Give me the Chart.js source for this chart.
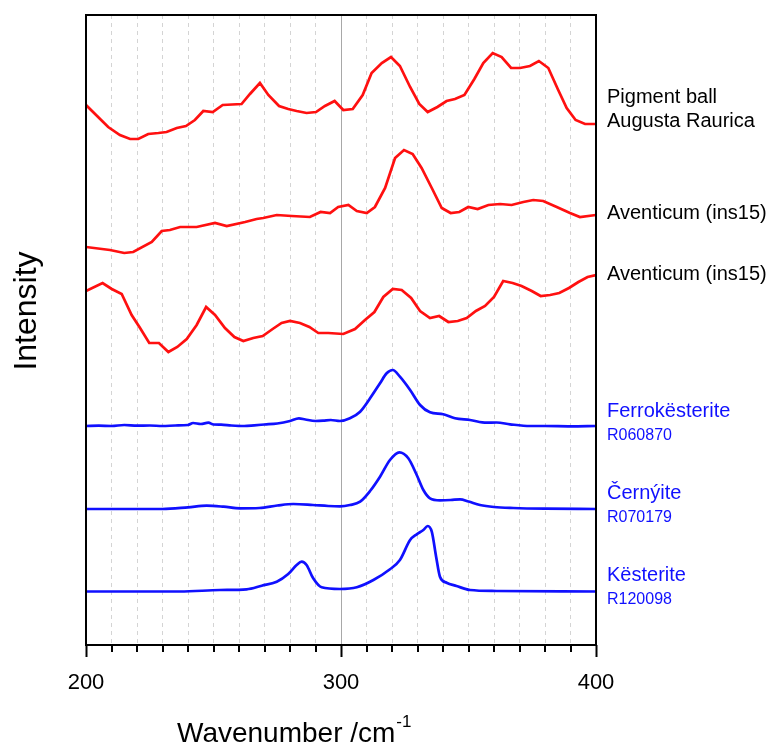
<!DOCTYPE html>
<html>
<head>
<meta charset="utf-8">
<script src="https://cdn.jsdelivr.net/npm/chart.js@4.4.1/dist/chart.umd.min.js"></script>
<style>
  html, body { margin: 0; padding: 0; background: #fff; }
  canvas { display: block; }
</style>
</head>
<body>
<canvas id="spectra" width="778" height="747"></canvas>
<script>
// Raman spectra, stacked with vertical offsets (arbitrary intensity units)
// each trace: [wavenumber, intensity above its own baseline]
const pigmentBall = [[200,20],[208.7,-2],[213.3,-10],[217.3,-14],[220.5,-14],[224.4,-9],[228.4,-8],[231.6,-7],[235.6,-3],[239.2,-1],[242.7,5],[246,14],[249.7,13],[253.6,20],[261,21],[264.3,31],[268.2,42],[271.5,30],[275.7,19],[279.3,16],[282.6,14],[286.5,12],[290.2,13],[293.7,19],[297.5,24],[300.9,15],[304.6,16],[308.5,30],[312,52],[316,62],[319.6,68],[323.1,59],[327.1,38],[330.7,21],[334,13],[337.8,18],[341.4,24],[344.7,26],[348.4,30],[352.3,46],[355.8,62],[359.5,72],[363,68],[366.7,57],[370.2,57],[374.1,59],[377.6,64],[381.3,57],[385,36],[388.5,17],[392,5],[395.7,1],[400,1]];
const aventicumA = [[200,-33],[209.4,-36],[215,-39],[218.5,-38],[225.8,-28],[229.7,-17],[232.9,-16],[236.9,-13],[243.4,-13],[250.6,-9],[255.2,-12],[262.4,-8],[266.9,-5],[269.5,-4],[274.8,-1],[280.7,-2],[287.8,-3],[292,2],[295.7,1],[298.9,7],[302.9,9],[306.2,3],[310.1,1],[313.3,7],[317.3,26],[321.2,56],[324.7,64],[328.1,60],[331.6,46],[335.6,26],[339.5,6],[343,1],[346.4,2],[349.9,7],[353.6,5],[357.8,9],[362.4,10],[366.9,9],[371.5,12],[375.4,14],[379.3,13],[384.6,7],[389.8,1],[393.7,-3],[400,-1]];
const aventicumB = [[200,-16],[206.5,-8],[210.1,-14],[214,-19],[217.9,-40],[221.2,-53],[224.8,-68],[228.6,-68],[232.3,-77],[235.8,-72],[239.5,-64],[243.4,-50],[247.1,-32],[250.6,-40],[254.5,-53],[258.2,-62],[261.7,-66],[265.6,-63],[269.3,-61],[273.2,-54],[276.7,-48],[280,-46],[283.9,-48],[287.6,-52],[291.1,-58],[295,-58],[300.9,-59],[305.5,-54],[309.4,-45],[313.1,-37],[316.6,-22],[320.3,-14],[323.8,-15],[327.5,-23],[331,-36],[334.9,-43],[338.5,-41],[342.1,-47],[345.8,-46],[349.3,-43],[352.9,-36],[356.5,-31],[360,-22],[363.6,-6],[367.3,-8],[370.8,-11],[374.8,-16],[378.3,-21],[382,-20],[385.6,-18],[389.4,-13],[393.1,-7],[396.7,-2],[400,0]];
const ferrokesterite = [[200,1],[205,1.3],[210,1],[215,2],[220,1.3],[225,1.5],[230,1],[235,1.5],[240,2],[242,4],[245,3],[248,4.3],[250,2.5],[253,2.3],[257,1.5],[262,1],[266,1.7],[270,2.5],[275,3.5],[280,6],[283.5,8.7],[286,7.5],[290,6],[293,6.3],[296,7],[299.6,6],[303.5,8.7],[307.5,15.3],[311.4,28.7],[315.3,43.7],[317.9,53.7],[320.3,57],[323.1,50.3],[327.1,37],[331,22],[334.9,14.7],[340.1,12.7],[344.7,8.7],[350.6,7],[357.1,4.3],[361,4.5],[366.3,2.7],[374.1,1],[380,1],[390,0.7],[400,1]];
const cernyite = [[200,0],[215,0],[230,0],[240,1.7],[247.3,3.3],[254,2.3],[260.4,0.7],[268,1],[275,3.5],[281.3,5],[289,4],[295,3],[299.6,2.7],[303.5,4],[307.5,7.3],[311.4,18],[315.3,32.3],[319.2,49],[322.9,56.7],[326.4,50.7],[329.7,34],[332.3,19],[334.9,10.7],[338.8,8.7],[343,9],[346.7,9.7],[350,7.5],[354.5,4],[360,2],[367.6,1],[380,0.3],[400,0]];
const kesterite = [[200,0],[236.9,0],[252.5,1.5],[263,2.2],[268.9,5.8],[274.8,9.8],[279.3,17.5],[282.6,26.5],[284.6,29.8],[286.5,26.5],[289.1,13.2],[292.4,4.2],[299.6,2.5],[306.2,4.2],[312.7,11.5],[319.2,22.2],[323.1,31.5],[327.1,51.5],[329.7,57.2],[332.3,61.5],[334,65.5],[335.6,59.8],[337.3,34.8],[338.8,14.8],[341.4,8.8],[345.3,5.5],[350.6,1.5],[361,0.5],[400,0]];

const traces = [pigmentBall, aventicumA, aventicumB, ferrokesterite, cernyite, kesterite];
const offsets = [520, 431, 370, 218, 136, 53.5];
const sampleNames = [['Pigment ball', 'Augusta Raurica'], ['Aventicum (ins15)'], ['Aventicum (ins15)'], ['Ferrokësterite'], ['Černýite'], ['Kësterite']];
const rruffIds = ['', '', '', 'R060870', 'R070179', 'R120098'];
const isReference = [false, false, false, true, true, true];
const xTickLabels = [200, 300, 400];

const RED = '#ff1010';
const BLUE = '#1010ff';
const FONT = '"Liberation Sans", Arial, sans-serif';

const datasets = traces.map((pts, i) => ({
  data: pts.map(([w, v]) => ({ x: w, y: v + offsets[i] })),
  borderColor: isReference[i] ? BLUE : RED,
  borderWidth: 2.7,
  pointRadius: 0,
  tension: 0,
  cubicInterpolationMode: isReference[i] ? 'monotone' : 'default',
  fill: false
}));

// frame, minor ticks, titles and trace labels
const decorations = {
  id: 'decorations',
  afterDraw(chart) {
    const { ctx, chartArea: a, scales: { x, y } } = chart;
    ctx.save();

    // minor ticks under the axis
    ctx.strokeStyle = '#000';
    ctx.lineWidth = 2;
    x.ticks.forEach(t => {
      if (xTickLabels.includes(t.value)) return;
      const px = Math.round(x.getPixelForValue(t.value));
      ctx.beginPath();
      ctx.moveTo(px, a.bottom);
      ctx.lineTo(px, a.bottom + 7);
      ctx.stroke();
    });

    // plot frame
    ctx.strokeRect(a.left, a.top, a.right - a.left, a.bottom - a.top);

    // axis titles
    ctx.fillStyle = '#000';
    ctx.textBaseline = 'alphabetic';
    ctx.textAlign = 'left';
    ctx.font = '28px ' + FONT;
    const main = 'Wavenumber /cm';
    const tx = 177, ty = 742;
    ctx.fillText(main, tx, ty);
    const mw = ctx.measureText(main).width;
    ctx.font = '17px ' + FONT;
    ctx.fillText('-1', tx + mw + 1, ty - 15);

    ctx.save();
    ctx.translate(36, 311);
    ctx.rotate(-Math.PI / 2);
    ctx.textAlign = 'center';
    ctx.font = '32px ' + FONT;
    ctx.fillText('Intensity', 0, 0);
    ctx.restore();

    // trace labels on the right
    ctx.textAlign = 'left';
    ctx.textBaseline = 'middle';
    traces.forEach((_, i) => {
      const base = y.getPixelForValue(offsets[i]);
      const lx = a.right + 11;
      ctx.fillStyle = isReference[i] ? BLUE : '#000';
      ctx.font = '20px ' + FONT;
      const names = sampleNames[i];
      if (names.length > 1) {
        ctx.fillText(names[0], lx, base - 28);
        ctx.fillText(names[1], lx, base - 4);
      } else if (rruffIds[i]) {
        ctx.fillText(names[0], lx, base - 16);
        ctx.font = '16px ' + FONT;
        ctx.fillText(rruffIds[i], lx, base + 8.5);
      } else {
        ctx.fillText(names[0], lx, base - 1);
      }
    });
    ctx.restore();
  }
};

new Chart(document.getElementById('spectra'), {
  type: 'line',
  data: { datasets },
  options: {
    responsive: false,
    animation: false,
    layout: { padding: { left: 86, right: 182, top: 15, bottom: 0 } },
    plugins: { legend: { display: false }, tooltip: { enabled: false } },
    scales: {
      x: {
        type: 'linear',
        min: 200,
        max: 400,
        afterFit: s => { s.height = 102; },
        ticks: {
          stepSize: 10,
          autoSkip: false,
          maxRotation: 0,
          padding: 13,
          color: '#000',
          font: { family: FONT, size: 22 },
          callback: v => xTickLabels.includes(v) ? String(v) : ''
        },
        grid: {
          lineWidth: 1,
          tickLength: 12,
          tickWidth: 2,
          color: c => {
            const v = c.tick && c.tick.value;
            if (v === 200 || v === 400) return 'rgba(0,0,0,0)';
            return v === 300 ? '#a8a8a8' : '#d4d4d4';
          },
          tickColor: c => xTickLabels.includes(c.tick && c.tick.value) ? '#000' : 'rgba(0,0,0,0)'
        },
        border: {
          display: false,
          dash: c => (c.tick && c.tick.value === 300) ? [] : [4, 4]
        }
      },
      y: {
        display: false,
        min: 0,
        max: 630
      }
    }
  },
  plugins: [decorations]
});
</script>
</body>
</html>
